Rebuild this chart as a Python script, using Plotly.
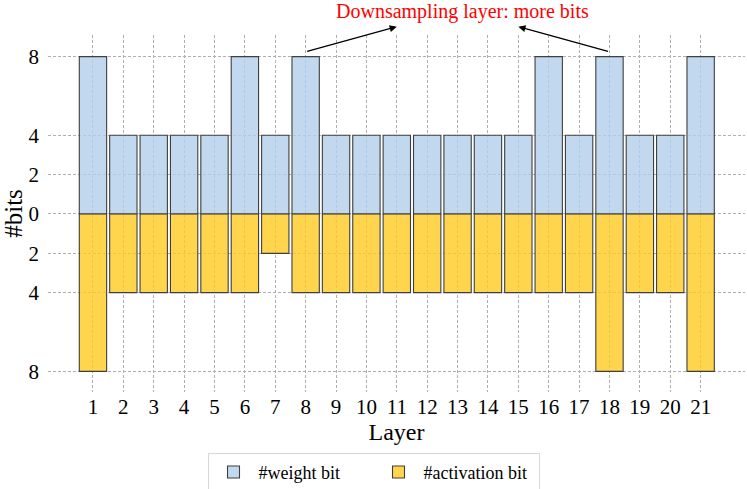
import plotly.graph_objects as go

# Bits per layer
layers = list(range(1, 22))
weight_bits = [8, 4, 4, 4, 4, 8, 4, 8, 4, 4, 4, 4, 4, 4, 4, 8, 4, 8, 4, 4, 8]
activation_bits = [8, 4, 4, 4, 4, 4, 2, 4, 4, 4, 4, 4, 4, 4, 4, 4, 4, 8, 4, 4, 8]

ytick_vals = [-8, -4, -2, 0, 2, 4, 8]
ytick_text = [str(abs(v)) for v in ytick_vals]

# Annotation: text and arrows (tail at downsampling bar top, head near text)
note_text = "Downsampling layer: more bits"
note_x = 13.15
arrow_tails = [(8, 8.25), (18, 8.25)]
arrow_heads = [(11.0, 9.52), (15.0, 9.52)]

FONT = "Liberation Serif"
BLUE = "rgba(179,206,234,0.8)"
YELLOW = "rgba(255,203,33,0.8)"
EDGE = "#3f3f3f"

fig = go.Figure()
fig.add_trace(go.Bar(
    x=layers, y=weight_bits, name="#weight bit", width=0.9,
    marker=dict(color=BLUE, line=dict(color=EDGE, width=1.1)),
))
fig.add_trace(go.Bar(
    x=layers, y=[-a for a in activation_bits], name="#activation bit", width=0.9,
    marker=dict(color=YELLOW, line=dict(color=EDGE, width=1.1)),
))

annotations = [dict(
    x=note_x, y=1.066, xref="x", yref="paper", text=note_text,
    showarrow=False, yanchor="middle",
    font=dict(family=FONT, size=20, color="red"),
)]
for (tx, ty), (hx, hy) in zip(arrow_tails, arrow_heads):
    annotations.append(dict(
        x=hx, y=hy, ax=tx, ay=ty, xref="x", yref="y", axref="x", ayref="y",
        text="", showarrow=True, arrowhead=2, arrowsize=1.1, arrowwidth=1.3,
        arrowcolor="black",
    ))

grid = dict(showgrid=True, gridcolor="#b0b0b0", griddash="3px,2px", gridwidth=0.9,
            zeroline=False, showline=False, ticks="")

fig.update_layout(
    width=747, height=489,
    margin=dict(l=48, r=2, t=35, b=97),
    plot_bgcolor="white", paper_bgcolor="white",
    barmode="overlay",
    font=dict(family=FONT, size=21, color="black"),
    showlegend=True,
    legend=dict(
        orientation="h", xref="container", yref="container",
        x=0.5, xanchor="center", y=0.074, yanchor="top",
        bordercolor="#d8d8d8", borderwidth=1, font=dict(size=18),
        entrywidth=110, itemwidth=40, tracegroupgap=0,
    ),
    xaxis=dict(range=[-0.48, 22.46], tickvals=layers, tickfont=dict(size=21),
               title=dict(text="Layer", font=dict(size=24), standoff=2),
               automargin=False, **grid),
    yaxis=dict(range=[-9.05, 9.1], tickvals=ytick_vals, ticktext=ytick_text,
               tickfont=dict(size=21), ticklabelstandoff=8,
               title=dict(text="#bits", font=dict(size=25), standoff=0),
               automargin=False, **grid),
    annotations=annotations,
)

fig.write_html("out.html", config={"displayModeBar": False},
               post_script="document.body.style.margin='0';")
